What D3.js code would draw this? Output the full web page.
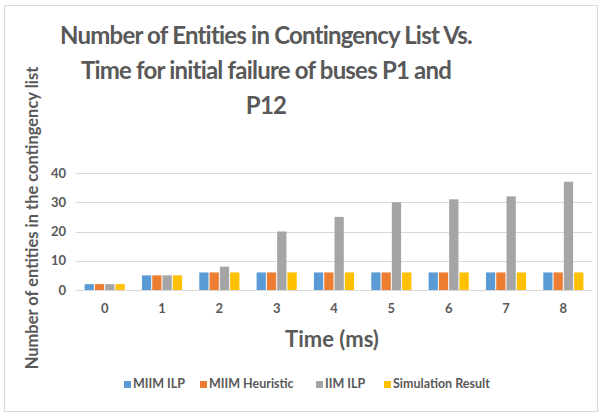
<!DOCTYPE html>
<html>
<head>
<meta charset="utf-8">
<script src="https://cdn.jsdelivr.net/npm/d3@7"></script>
<style>
  body { margin: 0; background: #fff; }
  text { font-family: Lato, "Open Sans", sans-serif; fill: #595959; font-weight: bold; }
</style>
</head>
<body>
<svg id="chart" width="604" height="416"></svg>
<script>
const categories = ['0', '1', '2', '3', '4', '5', '6', '7', '8'];
const seriesNames = ['MIIM ILP', 'MIIM Heuristic', 'IIM ILP', 'Simulation Result'];
const miimIlp = [2, 5, 6, 6, 6, 6, 6, 6, 6];
const miimHeuristic = [2, 5, 6, 6, 6, 6, 6, 6, 6];
const iimIlp = [2, 5, 8, 20, 25, 30, 31, 32, 37];
const simulation = [2, 5, 6, 6, 6, 6, 6, 6, 6];
const yTicks = [0, 10, 20, 30, 40];
const colors = ['#5B9BD5', '#ED7D31', '#A5A5A5', '#FFC000'];

const seriesValues = [miimIlp, miimHeuristic, iimIlp, simulation];
const data = categories.map((c, i) => ({
  cat: c,
  vals: seriesNames.map((s, j) => ({ key: s, value: seriesValues[j][i], color: colors[j] }))
}));

const svg = d3.select('#chart');
const margin = {top: 173, right: 12, bottom: 126, left: 76};
const width = 604 - margin.left - margin.right;
const height = 416 - margin.top - margin.bottom;

// frame
svg.append('rect')
  .attr('x', 4.5).attr('y', 5.5)
  .attr('width', 593).attr('height', 406)
  .attr('fill', 'none').attr('stroke', '#d9d9d9');

// title
const title = ['Number of Entities in Contingency List Vs.', 'Time for initial failure of buses P1 and', 'P12'];
svg.append('text')
  .attr('x', 266).attr('y', 44)
  .attr('text-anchor', 'middle')
  .style('font-size', '24px')
  .style('letter-spacing', '-0.8px')
  .selectAll('tspan')
  .data(title)
  .enter().append('tspan')
  .attr('x', 266)
  .attr('dy', (d, i) => i === 0 ? 0 : 35)
  .text(d => d);

const g = svg.append('g')
  .attr('transform', `translate(${margin.left},${margin.top})`);

const x = d3.scaleBand().domain(categories).range([0, width]).paddingInner(0.3).paddingOuter(0.15);
const x1 = d3.scaleBand().domain(seriesNames).range([0, x.bandwidth()]).paddingInner(0.1);
const y = d3.scaleLinear().domain([0, 40]).range([height, 0]);

// gridlines
g.append('g')
  .selectAll('line')
  .data(yTicks)
  .enter().append('line')
  .attr('x1', 0).attr('x2', width)
  .attr('y1', d => Math.round(y(d)) + 0.5).attr('y2', d => Math.round(y(d)) + 0.5)
  .attr('stroke', '#d9d9d9');

// y axis labels
const yAxis = g.append('g')
  .call(d3.axisLeft(y).tickValues(yTicks).tickSize(0).tickPadding(10));
yAxis.select('.domain').remove();
yAxis.selectAll('text').style('font-size', '13px').style('fill', '#595959');

// bars
const groups = g.selectAll('.grp')
  .data(data)
  .enter().append('g')
  .attr('class', 'grp')
  .attr('transform', d => `translate(${x(d.cat)},0)`);

groups.selectAll('rect')
  .data(d => d.vals)
  .enter().append('rect')
  .attr('x', d => x1(d.key))
  .attr('y', d => y(d.value))
  .attr('width', x1.bandwidth())
  .attr('height', d => height - y(d.value))
  .attr('fill', d => d.color);

// x axis
const xAxis = g.append('g')
  .attr('transform', `translate(0,${height})`)
  .call(d3.axisBottom(x).tickSize(0).tickPadding(14));
xAxis.select('.domain').attr('stroke', '#d9d9d9');
xAxis.selectAll('text').style('font-size', '13px').style('fill', '#595959');

// axis titles
svg.append('text')
  .attr('x', 332).attr('y', 347)
  .attr('text-anchor', 'middle')
  .style('font-size', '22px')
  .text('Time (ms)');

svg.append('text')
  .attr('transform', 'translate(38,218) rotate(-90)')
  .attr('text-anchor', 'middle')
  .style('font-size', '16.5px')
  .text('Number of entities in the contingency list');

// legend
const legendX = [124, 200, 316, 384];
const legend = svg.append('g').selectAll('g')
  .data(seriesNames)
  .enter().append('g')
  .attr('transform', (d, i) => `translate(${legendX[i]},388)`);
legend.append('rect')
  .attr('x', 0).attr('y', -7)
  .attr('width', 7).attr('height', 7)
  .attr('fill', (d, i) => colors[i]);
legend.append('text')
  .attr('x', 9).attr('y', 0)
  .style('font-size', '12.5px')
  .text(d => d);
</script>
</body>
</html>
